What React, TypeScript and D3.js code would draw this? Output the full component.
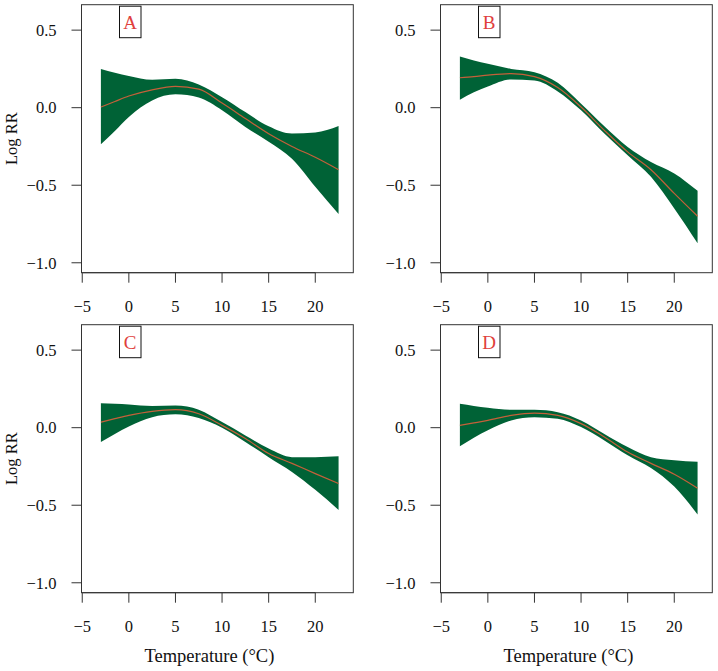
import React from "react";
import * as d3 from "d3";

const temps = [-3, -1.5, 0, 2.5, 5, 7.5, 10, 12.5, 15, 17.5, 20, 22.5];

const fitA = [0.004, 0.04, 0.075, 0.115, 0.137, 0.12, 0.03, -0.07, -0.168, -0.25, -0.32, -0.4];
const upA = [0.25, 0.225, 0.205, 0.18, 0.186, 0.15, 0.068, -0.028, -0.12, -0.167, -0.16, -0.118];
const loA = [-0.236, -0.15, -0.06, 0.047, 0.086, 0.065, -0.017, -0.125, -0.22, -0.33, -0.51, -0.686];

const fitB = [0.193, 0.2, 0.21, 0.22, 0.2, 0.13, 0.004, -0.146, -0.285, -0.4, -0.553, -0.7];
const upB = [0.33, 0.305, 0.283, 0.25, 0.229, 0.16, 0.026, -0.12, -0.253, -0.35, -0.424, -0.536];
const loB = [0.051, 0.1, 0.137, 0.182, 0.175, 0.105, -0.017, -0.167, -0.306, -0.446, -0.65, -0.874];

const fitC = [0.036, 0.058, 0.079, 0.105, 0.116, 0.09, 0.015, -0.07, -0.167, -0.23, -0.296, -0.36];
const upC = [0.158, 0.154, 0.15, 0.14, 0.143, 0.116, 0.036, -0.05, -0.135, -0.19, -0.19, -0.185];
const loC = [-0.092, -0.04, 0.008, 0.068, 0.086, 0.062, 0.0, -0.092, -0.19, -0.285, -0.4, -0.53];

const fitD = [0.015, 0.031, 0.047, 0.079, 0.094, 0.079, 0.026, -0.06, -0.157, -0.23, -0.3, -0.39];
const upD = [0.154, 0.14, 0.128, 0.115, 0.115, 0.1, 0.047, -0.04, -0.125, -0.19, -0.21, -0.22];
const loD = [-0.12, -0.065, -0.017, 0.047, 0.068, 0.058, 0.004, -0.082, -0.178, -0.26, -0.38, -0.56];

const panelLabels = ["A", "B", "C", "D"];
const xTicks = [-5, 0, 5, 10, 15, 20];
const yTicks = [0.5, 0.0, -0.5, -1.0];
const xTitle = "Temperature (°C)";
const yTitle = "Log RR";

const panels = [
  { label: panelLabels[0], fit: fitA, up: upA, lo: loA, col: 0, row: 0 },
  { label: panelLabels[1], fit: fitB, up: upB, lo: loB, col: 1, row: 0 },
  { label: panelLabels[2], fit: fitC, up: upC, lo: loC, col: 0, row: 1 },
  { label: panelLabels[3], fit: fitD, up: upD, lo: loD, col: 1, row: 1 },
];

const W = 718;
const H = 671;
const PW = 271.8;
const PH = 268;
const lefts = [81.5, 440.5];
const tops = [4.7, 324.7];
const FONT = "'Liberation Serif', 'Times New Roman', serif";
const AX = "#333";
const BAND = "#006236";
const LINE = "#c4603a";
const RED = "#e0403c";

const fmtY = (v: number) => (v < 0 ? "\u2212" : "") + Math.abs(v).toFixed(1);
const fmtX = (v: number) => (v < 0 ? "\u2212" : "") + Math.abs(v).toString();

function Panel({ p }: { p: (typeof panels)[number] }) {
  const left = lefts[p.col];
  const top = tops[p.row];
  const x = d3.scaleLinear().domain([-5.08, 24.08]).range([left, left + PW]);
  const y = d3.scaleLinear().domain([-1.064, 0.664]).range([top + PH, top]);
  const idx = temps.map((_, i) => i);
  const area = d3
    .area<number>()
    .x((i) => x(temps[i]))
    .y0((i) => y(p.lo[i]))
    .y1((i) => y(p.up[i]))
    .curve(d3.curveMonotoneX);
  const line = d3
    .line<number>()
    .x((i) => x(temps[i]))
    .y((i) => y(p.fit[i]))
    .curve(d3.curveMonotoneX);
  const bottom = top + PH;
  return (
    <g>
      <path d={area(idx) || ""} fill={BAND} stroke="none" />
      <path d={line(idx) || ""} fill="none" stroke={LINE} strokeWidth={1.2} />
      <rect x={left} y={top} width={PW} height={PH} fill="none" stroke={AX} strokeWidth={1} />
      <line x1={x(-5)} x2={x(20)} y1={bottom} y2={bottom} stroke={AX} />
      {xTicks.map((t) => (
        <g key={"x" + t}>
          <line x1={x(t)} x2={x(t)} y1={bottom} y2={bottom + 10} stroke={AX} />
          <text x={x(t)} y={bottom + 39} textAnchor="middle" fontFamily={FONT} fontSize={16.5} fill="#111">
            {fmtX(t)}
          </text>
        </g>
      ))}
      {yTicks.map((t) => (
        <g key={"y" + t}>
          <line x1={left - 10} x2={left} y1={y(t)} y2={y(t)} stroke={AX} />
          <text x={left - 25} y={y(t)} dy="0.35em" textAnchor="end" fontFamily={FONT} fontSize={16.5} fill="#111">
            {fmtY(t)}
          </text>
        </g>
      ))}
      <rect x={left + 38} y={top + 1.5} width={21.5} height={31.5} fill="#fff" stroke="#111" strokeWidth={1} />
      <text x={left + 48.7} y={top + 24.5} textAnchor="middle" fontFamily={FONT} fontSize={19} fill={RED}>
        {p.label}
      </text>
      {p.col === 0 && (
        <text
          transform={`translate(${11.5},${top + PH / 2}) rotate(-90)`}
          dy="0.35em"
          textAnchor="middle"
          fontFamily={FONT}
          fontSize={16.5}
          fill="#111"
        >
          {yTitle}
        </text>
      )}
      {p.row === 1 && (
        <text x={left + PW / 2 - 8} y={662} textAnchor="middle" fontFamily={FONT} fontSize={18.5} fill="#111">
          {xTitle}
        </text>
      )}
    </g>
  );
}

export default function App() {
  return (
    <div style={{ position: "absolute", left: 0, top: 0 }}>
      <svg width={W} height={H} style={{ display: "block", background: "#fff" }}>
        <rect x={0} y={0} width={W} height={H} fill="#fff" />
        {panels.map((p) => (
          <Panel key={p.label} p={p} />
        ))}
      </svg>
    </div>
  );
}
